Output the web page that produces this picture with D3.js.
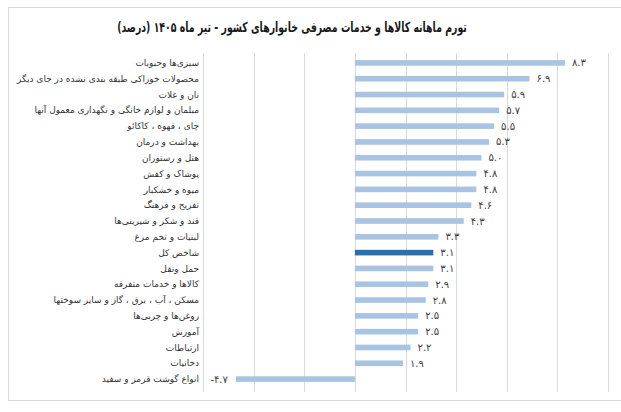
<!DOCTYPE html>
<html>
<head>
<meta charset="utf-8">
<script src="https://d3js.org/d3.v7.min.js"></script>
<style>
  body { margin: 0; background: #fff; }
  svg text { font-family: "DejaVu Sans", sans-serif; }
</style>
</head>
<body>
<svg id="chart" width="621" height="412"></svg>
<script>
// data
var categories = [
  "سبزی‌ها وحبوبات",
  "محصولات خوراکی طبقه بندی نشده در جای دیگر",
  "نان و غلات",
  "مبلمان و لوازم خانگی و نگهداری معمول آنها",
  "چای ، قهوه ، کاکائو",
  "بهداشت و درمان",
  "هتل و رستوران",
  "پوشاک و کفش",
  "میوه و خشکبار",
  "تفریح و فرهنگ",
  "قند و شکر و شیرینی‌ها",
  "لبنیات و تخم مرغ",
  "شاخص کل",
  "حمل ونقل",
  "کالاها و خدمات متفرقه",
  "مسکن ، آب ، برق ، گاز و سایر سوختها",
  "روغن‌ها و چربی‌ها",
  "آموزش",
  "ارتباطات",
  "دخانیات",
  "انواع گوشت قرمز و سفید"
];
var values = [8.3, 6.9, 5.9, 5.7, 5.5, 5.3, 5.0, 4.8, 4.8, 4.6, 4.3, 3.3, 3.1, 3.1, 2.9, 2.8, 2.5, 2.5, 2.2, 1.9, -4.7];
var highlight = "شاخص کل";
var gridTicks = [-6, -4, -2, 0, 2, 4, 6, 8, 10];
var title = "تورم ماهانه کالاها و خدمات مصرفی خانوارهای کشور - تیر ماه ۱۴۰۵ (درصد)";

var rows = categories.map(function(c, i) { return {name: c, value: values[i]}; });

var svg = d3.select("#chart");

// outer frame
svg.append("rect")
  .attr("x", 8.5).attr("y", 7.5)
  .attr("width", 640).attr("height", 393)
  .attr("fill", "#fff")
  .attr("stroke", "#d9d9d9");

// title, squeezed sideways to the width it has in the picture
var t = svg.append("text")
  .attr("text-anchor", "middle")
  .style("font-size", "14px")
  .style("font-weight", "bold")
  .style("fill", "#1a1a1a")
  .text(title);
var tw = t.node().getComputedTextLength();
t.attr("transform", "translate(292,32) scale(" + (350 / tw) + ",1)");

var x = d3.scaleLinear().domain([-6, 10]).range([203, 608]);
var y = d3.scaleBand().domain(categories).range([55, 387])
  .paddingInner(0.645).paddingOuter(0.3225);

function fa(v) {
  var s = d3.format(".1f")(v).replace("−", "-");
  return s.replace(/[0-9]/g, function(d) { return "۰۱۲۳۴۵۶۷۸۹"[+d]; });
}

// gridlines
svg.append("g")
  .selectAll("line")
  .data(gridTicks)
  .enter().append("line")
    .attr("x1", function(d) { return Math.round(x(d)) + 0.5; })
    .attr("x2", function(d) { return Math.round(x(d)) + 0.5; })
    .attr("y1", 53).attr("y2", 392)
    .attr("stroke", "#d9d9d9");

// bars
svg.append("g")
  .selectAll("rect")
  .data(rows)
  .enter().append("rect")
    .attr("x", function(d) { return x(Math.min(0, d.value)); })
    .attr("y", function(d) { return y(d.name); })
    .attr("width", function(d) { return Math.abs(x(d.value) - x(0)); })
    .attr("height", y.bandwidth())
    .attr("fill", function(d) { return d.name == highlight ? "#2f6ea5" : "#a9c4e3"; });

// value labels
svg.append("g")
  .selectAll("text")
  .data(rows)
  .enter().append("text")
    .attr("x", function(d) { return d.value < 0 ? x(d.value) - 8 : x(d.value) + 7; })
    .attr("y", function(d) { return y(d.name) + y.bandwidth() / 2; })
    .attr("dy", "0.35em")
    .attr("text-anchor", function(d) { return d.value < 0 ? "end" : "start"; })
    .style("font-size", "10px")
    .style("fill", "#404040")
    .text(function(d) { return fa(d.value); });

// category labels
svg.append("g")
  .selectAll("text")
  .data(rows)
  .enter().append("text")
    .attr("x", 199)
    .attr("y", function(d) { return y(d.name) + y.bandwidth() / 2; })
    .attr("dy", "0.35em")
    .attr("text-anchor", "end")
    .style("font-size", "9px")
    .style("fill", "#333")
    .text(function(d) { return d.name; });
</script>
</body>
</html>
